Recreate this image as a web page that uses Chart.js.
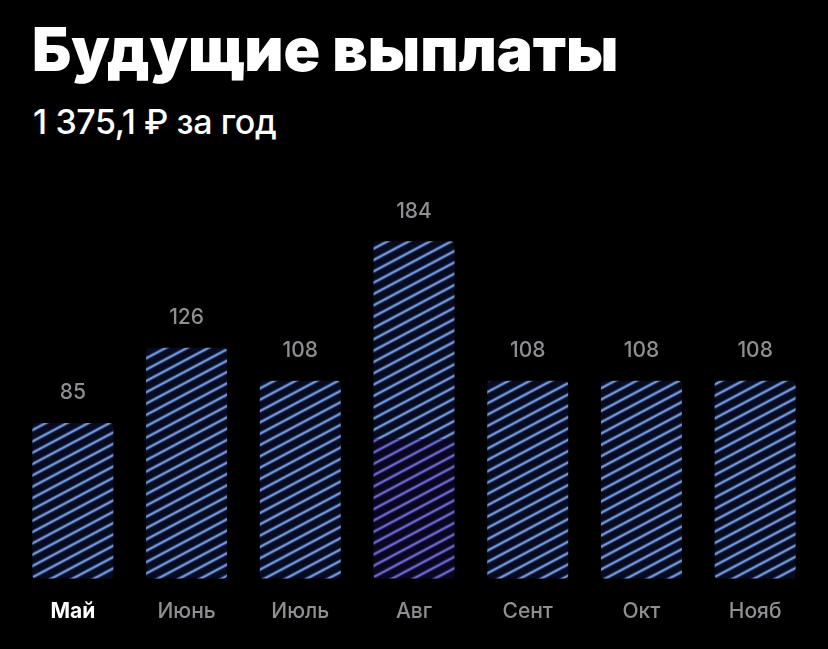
<!DOCTYPE html>
<html>
<head>
<meta charset="utf-8">
<script src="https://cdn.jsdelivr.net/npm/chart.js@4.4.1/dist/chart.umd.min.js"></script>
<style>
  html, body { margin: 0; padding: 0; background: #000; }
  body { width: 828px; height: 649px; position: relative; overflow: hidden; font-family: Inter, "Noto Sans", sans-serif; }
  #title { position: absolute; left: 32px; top: 12px; color: #fff; font-weight: 900; font-size: 60.5px; letter-spacing: 0; white-space: nowrap; }
  #subtitle { position: absolute; left: 33px; top: 101px; color: #fff; font-weight: 500; font-size: 34px; letter-spacing: -0.4px; white-space: nowrap; }
  #chart { position: absolute; left: 0; top: 0; }
</style>
</head>
<body>
<div id="title">Будущие выплаты</div>
<div id="subtitle">1 375,1 ₽ за год</div>
<canvas id="chart" width="828" height="649"></canvas>
<script>
// data
const months = ["Май", "Июнь", "Июль", "Авг", "Сент", "Окт", "Нояб"]
const announced = [null, null, null, 76, null, null, null]   // purple bottom part
const expected = [85, 126, 108, 108, 108, 108, 108]          // blue striped part
const currentMonth = 0

const grey = "#8e8e93"

// diagonal stripes
function stripes(bg, line) {
  const tile = document.createElement("canvas")
  tile.width = 10
  tile.height = 10
  const t = tile.getContext("2d")
  t.fillStyle = bg
  t.fillRect(0, 0, 10, 10)
  t.fillStyle = line
  t.fillRect(0, 3.7, 10, 2.6)
  const p = document.getElementById("chart").getContext("2d").createPattern(tile, "repeat")
  p.setTransform(new DOMMatrix().rotate(-28))
  return p
}

const blueFill = stripes("#060b20", "#7096de")
const purpleFill = stripes("#090720", "#6a66cf")

// totals above the bars
const totalLabels = {
  id: "totalLabels",
  afterDatasetsDraw(chart) {
    const ctx = chart.ctx
    const top = chart.getDatasetMeta(1).data
    ctx.save()
    ctx.font = "500 21px Inter, 'Noto Sans', sans-serif"
    ctx.fillStyle = grey
    ctx.textAlign = "center"
    ctx.textBaseline = "middle"
    top.forEach((bar, i) => {
      const total = (announced[i] || 0) + (expected[i] || 0)
      ctx.fillText(String(total), bar.x, bar.y - 30)
    })
    ctx.restore()
  }
}

const chart = new Chart(document.getElementById("chart"), {
  type: "bar",
  data: {
    labels: months,
    datasets: [
      {
        data: announced,
        backgroundColor: purpleFill,
        borderRadius: {topLeft: 0, topRight: 0, bottomLeft: 4, bottomRight: 4},
        borderSkipped: false,
        barPercentage: 0.712,
        categoryPercentage: 1
      },
      {
        data: expected,
        backgroundColor: blueFill,
        borderRadius: ctx => announced[ctx.dataIndex] ? {topLeft: 4, topRight: 4, bottomLeft: 0, bottomRight: 0} : 4,
        borderSkipped: false,
        barPercentage: 0.712,
        categoryPercentage: 1
      }
    ]
  },
  options: {
    responsive: false,
    animation: false,
    layout: {padding: {left: 16, right: 16, top: 212, bottom: 13}},
    plugins: {legend: {display: false}, tooltip: {enabled: false}},
    scales: {
      x: {
        stacked: true,
        grid: {display: false},
        border: {display: false},
        ticks: {
          padding: 12,
          color: ctx => ctx.index === currentMonth ? "#fff" : grey,
          font: ctx => ({family: "Inter, 'Noto Sans', sans-serif", size: 21, weight: ctx.index === currentMonth ? "700" : "500"})
        }
      },
      y: {stacked: true, display: false, min: 0, max: 200}
    }
  },
  plugins: [totalLabels]
})
</script>
</body>
</html>
